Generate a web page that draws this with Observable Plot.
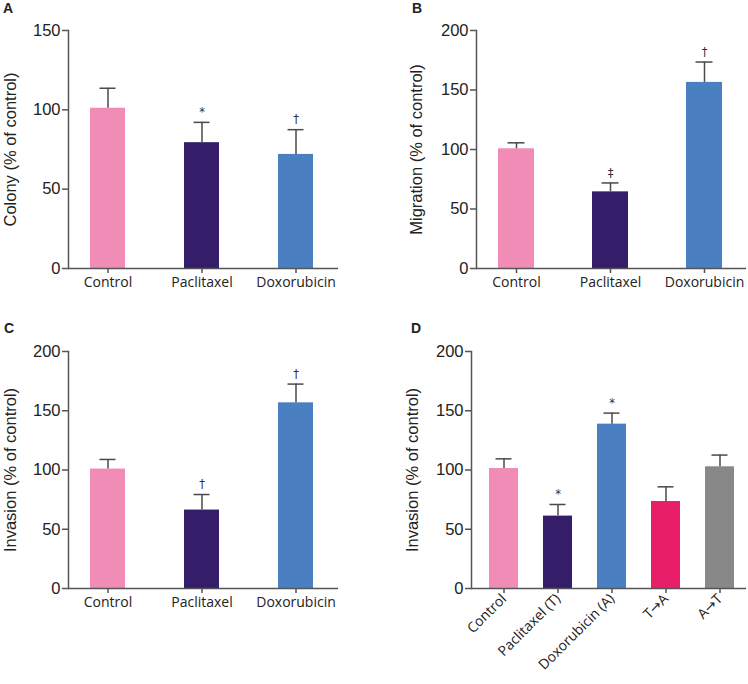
<!DOCTYPE html>
<html>
<head>
<meta charset="utf-8">
<script src="https://cdn.jsdelivr.net/npm/d3@7"></script>
<script src="https://cdn.jsdelivr.net/npm/@observablehq/plot@0.6"></script>
<style>
  body { margin: 0; background: #fff; }
  #root { position: relative; width: 748px; height: 684px; background: #fff; overflow: hidden; }
  .panel { position: absolute; }
  .letter { position: absolute; font-family: "Liberation Sans", Arial, sans-serif; font-weight: bold; font-size: 14px; line-height: 14px; color: #222; }
  svg g[aria-label="y-axis tick label"] { font-size: 16.5px !important; font-family: "Liberation Sans", Arial, sans-serif !important; fill: #222; }
  svg g[aria-label="y-axis label"] { font-size: 16.5px !important; font-family: "Liberation Sans", Arial, sans-serif !important; fill: #222; }
  svg g[aria-label="x-axis tick label"] { font-size: 14px !important; font-family: "Open Sans", "DejaVu Sans", sans-serif !important; fill: #222; }
</style>
</head>
<body>
<div id="root"></div>
<script>
// ---- Data ----
const catsABC = ["Control", "Paclitaxel", "Doxorubicin"];
const catsD = ["Control", "Paclitaxel (T)", "Doxorubicin (A)", "T→A", "A→T"];
const colorsABC = ["#F08CB5", "#341D69", "#4A80C1"];
const colorsD = ["#F08CB5", "#341D69", "#4A80C1", "#E81E68", "#888888"];

const colonyMean = [101.0, 79.3, 71.9];
const colonySD = [12.6, 12.8, 15.6];
const colonySig = ["", "*", "†"];

const migrationMean = [100.6, 64.4, 156.4];
const migrationSD = [5.0, 7.5, 17.1];
const migrationSig = ["", "‡", "†"];

const invasionMean = [100.8, 66.2, 156.7];
const invasionSD = [8.1, 13.1, 15.8];
const invasionSig = ["", "†", "†"];

const seqMean = [101.3, 61.1, 138.7, 73.4, 102.7];
const seqSD = [8.1, 9.8, 9.3, 12.4, 9.9];
const seqSig = ["", "*", "*", "", ""];

const ticks150 = [0, 50, 100, 150];
const ticks200 = [0, 50, 100, 150, 200];

// ---- Panel builder ----
function panel({cats, mean, sd, sig, colors, ymax, yticks, ylabel, width, height, labelOffset,
                marginLeft, marginRight, marginTop, marginBottom, xrange, pad, capInset, rotate}) {
  const data = cats.map((c, i) => ({cat: c, mean: mean[i], up: mean[i] + sd[i], sig: sig[i], color: colors[i]}));
  return Plot.plot({
    width, height, marginLeft, marginRight, marginTop, marginBottom,
    style: {fontFamily: "Liberation Sans, Arial, sans-serif", fontSize: "16px", color: "#222", background: "#fff"},
    x: {domain: cats, range: xrange, paddingInner: pad, paddingOuter: pad / 2, align: 0.5, label: null},
    y: {domain: [0, ymax], label: null},
    marks: [
      Plot.barY(data, {x: "cat", y: "mean", fill: "color"}),
      Plot.ruleX(data, {x: "cat", y1: "mean", y2: "up", stroke: "#4a4a4a", strokeWidth: 1.5}),
      Plot.tickY(data, {x: "cat", y: "up", stroke: "#4a4a4a", strokeWidth: 1.5, insetLeft: capInset, insetRight: capInset}),
      Plot.text(data, {x: "cat", y: "up", text: "sig", dy: -10, fontSize: 11.5, fontFamily: "DejaVu Sans", fill: "#333", lineAnchor: "middle"}),
      Plot.axisY({ticks: yticks, tickSize: 6, tickPadding: 2, stroke: "#555", strokeWidth: 1.5,
                  label: ylabel, labelAnchor: "center", labelArrow: "none", labelOffset}),
      Plot.axisX(rotate
        ? {tickSize: 5, tickPadding: 3, stroke: "#555", strokeWidth: 1.5, tickRotate: -45, label: null}
        : {tickSize: 5, tickPadding: 4, stroke: "#555", strokeWidth: 1.5, label: null}),
      Plot.ruleY([0], {stroke: "#555", strokeWidth: 1.5}),
      Plot.frame({anchor: "left", stroke: "#555", strokeWidth: 1.5})
    ]
  });
}

const root = document.getElementById("root");
function place(node, left, top) {
  node.classList.add("panel");
  node.style.left = left + "px";
  node.style.top = top + "px";
  root.appendChild(node);
}
function letter(t, left, top) {
  const d = document.createElement("div");
  d.className = "letter";
  d.textContent = t;
  d.style.left = left + "px";
  d.style.top = top + "px";
  root.appendChild(d);
}

place(panel({cats: catsABC, mean: colonyMean, sd: colonySD, sig: colonySig, colors: colorsABC,
  ymax: 150, yticks: ticks150, ylabel: "Colony (% of control)", width: 374, height: 300, labelOffset: 64,
  marginLeft: 68, marginRight: 36, marginTop: 30, marginBottom: 32,
  xrange: [60.5, 342.5], pad: 0.63, capInset: 9.5}), 0, 0);

place(panel({cats: catsABC, mean: migrationMean, sd: migrationSD, sig: migrationSig, colors: colorsABC,
  ymax: 200, yticks: ticks200, ylabel: "Migration (% of control)", width: 374, height: 300, labelOffset: 66,
  marginLeft: 102, marginRight: 2, marginTop: 30, marginBottom: 32,
  xrange: [94.5, 376.5], pad: 0.62, capInset: 9.5}), 374, 0);

place(panel({cats: catsABC, mean: invasionMean, sd: invasionSD, sig: invasionSig, colors: colorsABC,
  ymax: 200, yticks: ticks200, ylabel: "Invasion (% of control)", width: 374, height: 300, labelOffset: 64,
  marginLeft: 68, marginRight: 36, marginTop: 31, marginBottom: 32,
  xrange: [60.5, 342.5], pad: 0.63, capInset: 9.5}), 0, 320);

place(panel({cats: catsD, mean: seqMean, sd: seqSD, sig: seqSig, colors: colorsD,
  ymax: 200, yticks: ticks200, ylabel: "Invasion (% of control)", width: 374, height: 364, labelOffset: 65,
  marginLeft: 97, marginRight: 2, marginTop: 31, marginBottom: 96,
  xrange: [101.2, 374.3], pad: 0.46, capInset: 6.5, rotate: true}), 374, 320);

letter("A", 3, 1);
letter("B", 412, 1);
letter("C", 4, 321);
letter("D", 411, 321);
</script>
</body>
</html>
